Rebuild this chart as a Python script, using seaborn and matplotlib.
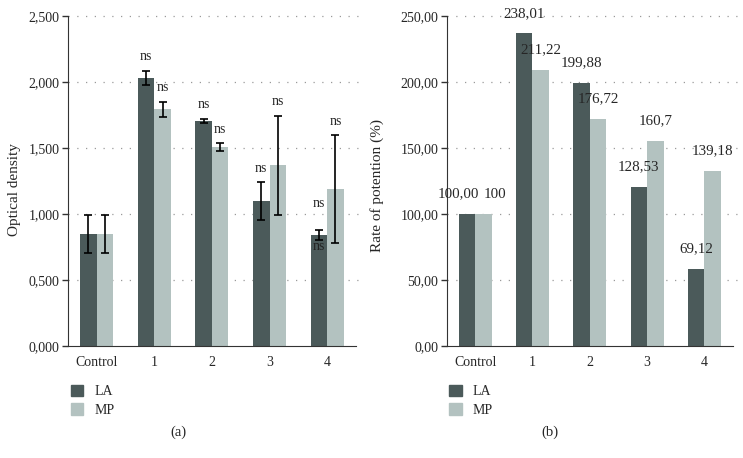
import numpy as np
import pandas as pd
import seaborn as sns
import matplotlib.pyplot as plt
from matplotlib.patches import Patch
from matplotlib.ticker import FuncFormatter, MultipleLocator

groups = ['Control', '1', '2', '3', '4']
series = ['LA', 'MP']

# (a) optical density: means and error half-widths
od_la = [0.850, 2.030, 1.705, 1.098, 0.840]
od_mp = [0.850, 1.795, 1.505, 1.370, 1.188]
od_la_err = [0.142, 0.054, 0.017, 0.142, 0.038]
od_mp_err = [0.142, 0.057, 0.030, 0.375, 0.408]
ns_la = ['', 'ns', 'ns', 'ns', 'ns']
ns_mp = ['', 'ns', 'ns', 'ns', 'ns']

# (b) rate of potention: bar heights and printed labels
rp_la = [100.0, 237.0, 199.5, 120.6, 58.3]
rp_mp = [100.0, 209.0, 172.0, 155.2, 132.5]
rp_la_txt = ['100,00', '238,01', '199,88', '128,53', '69,12']
rp_mp_txt = ['100', '211,22', '176,72', '160,7', '139,18']

colors = {'LA': '#4b5a5a', 'MP': '#b3c2c0'}

sns.set_style('white')
plt.rcParams['font.family'] = ['Liberation Serif', 'DejaVu Serif']
plt.rcParams['font.size'] = 10

df_a = pd.DataFrame({
    'group': groups * 2,
    'series': ['LA'] * 5 + ['MP'] * 5,
    'value': od_la + od_mp,
})
df_b = pd.DataFrame({
    'group': groups * 2,
    'series': ['LA'] * 5 + ['MP'] * 5,
    'value': rp_la + rp_mp,
})

fig = plt.figure(figsize=(7.43, 4.58), dpi=100)
ax1 = fig.add_axes([0.0915, 0.2445, 0.3875, 0.7205])
ax2 = fig.add_axes([0.601, 0.2445, 0.3855, 0.7205])


def style_axis(ax, ymax, step, fmt, ylabel, labx, laby):
    ax.set_xlim(-0.5, 4.5)
    ax.set_ylim(0, ymax)
    ax.yaxis.set_major_locator(MultipleLocator(step))
    ax.yaxis.set_major_formatter(FuncFormatter(lambda v, p: fmt.format(v).replace('.', ',')))
    for y in np.arange(step, ymax + step / 2, step):
        ax.axhline(y, color='#9a9a9a', lw=0.9, ls=(0, (1, 6)), zorder=0, clip_on=False,
                   xmax=1.015)
    sns.despine(ax=ax)
    ax.spines['left'].set_color('#333333')
    ax.spines['bottom'].set_color('#333333')
    ax.set_xticks(range(5))
    ax.set_xticklabels(groups)
    ax.set_xticks(np.arange(-0.5, 5, 1), minor=True)
    ax.tick_params(axis='x', which='major', length=0, pad=7, labelsize=10)
    ax.tick_params(axis='x', which='minor', length=6, width=1, color='#333333', direction='out')
    ax.tick_params(axis='y', length=4, width=1, color='#333333', direction='out', left=True,
                   labelsize=10, pad=2)
    ax.set_xlabel('')
    ax.set_ylabel(ylabel, fontsize=11)
    ax.yaxis.set_label_coords(labx, laby)
    ax.legend(handles=[Patch(color=colors[s], label=s) for s in series],
              loc='upper left', bbox_to_anchor=(-0.01, -0.1), frameon=False,
              handlelength=0.9, handleheight=0.9, handletextpad=0.8,
              labelspacing=0.35, borderaxespad=0, fontsize=10)


# panel (a)
sns.barplot(data=df_a, x='group', y='value', hue='series', palette=colors,
            errorbar=None, width=0.575, saturation=1, legend=False, linewidth=0,
            edgecolor='none', ax=ax1)
style_axis(ax1, 2.5, 0.5, '{:.3f}', 'Optical density', -0.163, 0.473)

for k, (cont, means, errs, marks) in enumerate(zip(ax1.containers, [od_la, od_mp],
                                                   [od_la_err, od_mp_err], [ns_la, ns_mp])):
    xs = [b.get_x() + b.get_width() / 2 for b in cont]
    ax1.errorbar(xs, means, yerr=errs, fmt='none', ecolor='black', elinewidth=1.2,
                 capsize=2.6, capthick=1.2, zorder=3)
    for i, (x, m, e, t) in enumerate(zip(xs, means, errs, marks)):
        if t:
            dy = 27 if (k == 0 and i == 4) else 14
            ax1.annotate(t, (x, m + e), xytext=(0, dy), textcoords='offset pixels',
                         ha='center', va='center', fontsize=10)

# extra mark drawn inside the LA bar of group 4
b4 = ax1.containers[0][4]
ax1.annotate('ns', (b4.get_x() + b4.get_width() / 2, od_la[4]), xytext=(0, -11),
             textcoords='offset pixels', ha='center', va='center', fontsize=10,
             color='#222222')

# panel (b)
sns.barplot(data=df_b, x='group', y='value', hue='series', palette=colors,
            errorbar=None, width=0.575, saturation=1, legend=False, linewidth=0,
            edgecolor='none', ax=ax2)
style_axis(ax2, 250, 50, '{:.2f}', 'Rate of potention (%)', -0.219, 0.485)

nudges = [-9, 12]
for k, (cont, labels) in enumerate(zip(ax2.containers, [rp_la_txt, rp_mp_txt])):
    for i, (bar, t) in enumerate(zip(cont, labels)):
        dx = nudges[k] if i == 0 else 0
        ax2.annotate(t, (bar.get_x() + bar.get_width() / 2, bar.get_height()),
                     xytext=(dx, 20), textcoords='offset pixels', ha='center',
                     va='center', fontsize=10.8, annotation_clip=False)

fig.text(0.2396, 0.057, '(a)', ha='center', va='center', fontsize=10.5)
fig.text(0.740, 0.057, '(b)', ha='center', va='center', fontsize=10.5)

fig.savefig('out.png', dpi=100)
